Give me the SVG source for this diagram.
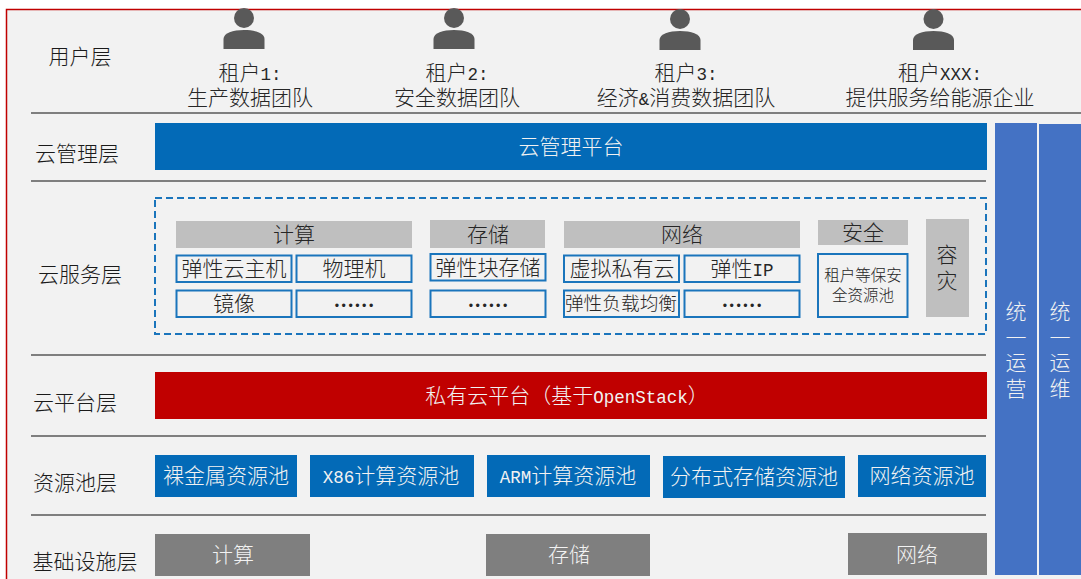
<svg xmlns="http://www.w3.org/2000/svg" width="1081" height="579" viewBox="0 0 1081 579">
<style>
text{font-family:"Noto Sans CJK SC",sans-serif;font-size:21px;text-anchor:middle;fill:#262626;font-weight:300}
.l{fill:#1a1a1a}
.w{fill:#f2f2f2}
.h{fill:#bfbfbf}
.b{fill:#f2f2f2;stroke:#1a75bc;stroke-width:2}
.bl{fill:#036ab7}
.g{fill:#7f7f7f}
.c{fill:#4472c4}
.s{font-size:15.5px}
.n{font-size:18.7px}
.m{font-family:"Liberation Mono",monospace;font-size:17.5px;font-weight:400}
.d{font-family:"Liberation Serif",serif;font-weight:700;font-size:20.5px}
.sep{stroke:#7f7f7f;stroke-width:2;fill:none}
</style>
<defs>
<g id="person" fill="#595959"><circle cx="0" cy="9" r="10"/><path d="M-20.500 40V30C-20.500 24 -11 21 0 21S20.500 24 20.500 30V40Z"/></g>
</defs>
<rect width="1081" height="579" fill="#fff"/>
<g id="frame"><rect x="6" y="9" width="1075" height="570" fill="#f2f2f2"/><path d="M1081 9.500H6.500V579" fill="none" stroke="#c00000" stroke-width="1.500"/></g>
<g id="connectors">
<path class="sep" d="M31 113H1081M31 181H986M31 355H986M31 436H986M31 515H986"/>
</g>
<g id="labels">
<text class="l" x="80" y="64">用户层</text>
<text class="l" x="77" y="161">云管理层</text>
<text class="l" x="80" y="282">云服务层</text>
<text class="l" x="75" y="410">云平台层</text>
<text class="l" x="75" y="490">资源池层</text>
<text class="l" x="85" y="569">基础设施层</text>
</g>
<g id="tenant1"><use href="#person" x="244" y="9"/><text x="250" y="80">租户<tspan class="m">1:</tspan></text><text x="250" y="105">生产数据团队</text></g>
<g id="tenant2"><use href="#person" x="454" y="9"/><text x="457" y="80">租户<tspan class="m">2:</tspan></text><text x="457" y="105">安全数据团队</text></g>
<g id="tenant3"><use href="#person" x="680" y="10"/><text x="686" y="80">租户<tspan class="m">3:</tspan></text><text x="686" y="105">经济<tspan class="m">&amp;</tspan>消费数据团队</text></g>
<g id="tenantX"><use href="#person" x="933.500" y="10"/><text x="940" y="80">租户<tspan class="m">XXX:</tspan></text><text x="940" y="105">提供服务给能源企业</text></g>
<g id="mgmt"><rect class="bl" x="155" y="123" width="832" height="47"/><text class="w" x="571" y="154">云管理平台</text></g>
<g id="services"><rect x="155" y="198" width="831" height="136" fill="none" stroke="#1a75bc" stroke-width="2" stroke-dasharray="7 4"/></g>
<g id="compute">
<rect class="h" x="176" y="221" width="236" height="27"/><text x="294" y="242">计算</text>
<rect class="b" x="176.500" y="255.500" width="115" height="26.500"/><text x="234" y="276">弹性云主机</text>
<rect class="b" x="296.500" y="255.500" width="115" height="26.500"/><text x="354" y="276">物理机</text>
<rect class="b" x="176.500" y="290.500" width="115" height="26.500"/><text x="234" y="311">镜像</text>
<rect class="b" x="296.500" y="290.500" width="115" height="26.500"/><text class="d" x="354" y="312">······</text>
</g>
<g id="storage">
<rect class="h" x="430" y="220" width="115" height="28"/><text x="488" y="242">存储</text>
<rect class="b" x="430.500" y="254" width="115" height="26.500"/><text x="488" y="275">弹性块存储</text>
<rect class="b" x="430.500" y="290.500" width="115" height="26.500"/><text class="d" x="488" y="312">······</text>
</g>
<g id="network">
<rect class="h" x="564" y="221" width="236" height="27"/><text x="682" y="242">网络</text>
<rect class="b" x="564" y="255.500" width="115" height="26.500"/><text x="622" y="276">虚拟私有云</text>
<rect class="b" x="684.500" y="255.500" width="115" height="26.500"/><text x="742" y="276">弹性<tspan class="m">IP</tspan></text>
<rect class="b" x="564" y="290.500" width="115" height="26.500"/><text class="n" x="621" y="310">弹性负载均衡</text>
<rect class="b" x="684.500" y="290.500" width="115" height="26.500"/><text class="d" x="742" y="312">······</text>
</g>
<g id="security">
<rect class="h" x="818" y="220" width="90" height="25"/><text x="863" y="240">安全</text>
<rect class="b" x="818" y="254" width="89.500" height="63"/><text class="s" x="863" y="281">租户等保安</text><text class="s" x="863" y="301">全资源池</text>
</g>
<g id="dr"><rect class="h" x="926" y="219" width="43" height="98"/><text x="947" y="262">容</text><text x="947" y="288">灾</text></g>
<g id="platform"><rect x="155" y="372" width="832" height="47" fill="#c00000"/><text class="w" x="567" y="403">私有云平台（基于<tspan class="m">OpenStack</tspan>）</text></g>
<g id="pool1"><rect class="bl" x="155" y="455" width="142" height="42"/><text class="w" x="226" y="483">裸金属资源池</text></g>
<g id="pool2"><rect class="bl" x="310" y="455" width="164" height="42"/><text class="w" x="391" y="483"><tspan class="m">X86</tspan>计算资源池</text></g>
<g id="pool3"><rect class="bl" x="487" y="455" width="163" height="42"/><text class="w" x="568" y="483"><tspan class="m">ARM</tspan>计算资源池</text></g>
<g id="pool4"><rect class="bl" x="663" y="456" width="182" height="42"/><text class="w" x="754" y="484">分布式存储资源池</text></g>
<g id="pool5"><rect class="bl" x="858" y="455" width="128" height="42"/><text class="w" x="922" y="483">网络资源池</text></g>
<g id="infra1"><rect class="g" x="155" y="534" width="155" height="42"/><text class="w" x="233" y="562">计算</text></g>
<g id="infra2"><rect class="g" x="486" y="534" width="164" height="42"/><text class="w" x="569" y="562">存储</text></g>
<g id="infra3"><rect class="g" x="848" y="533" width="139" height="42"/><text class="w" x="917" y="562">网络</text></g>
<g id="ops1"><rect class="c" x="995" y="123" width="42" height="452"/><text class="w" x="1016" y="319">统</text><text class="w" x="1016" y="345">一</text><text class="w" x="1016" y="370">运</text><text class="w" x="1016" y="396">营</text></g>
<g id="ops2"><rect class="c" x="1039" y="124" width="42" height="451"/><text class="w" x="1060" y="319">统</text><text class="w" x="1060" y="345">一</text><text class="w" x="1060" y="370">运</text><text class="w" x="1060" y="396">维</text></g>
</svg>
